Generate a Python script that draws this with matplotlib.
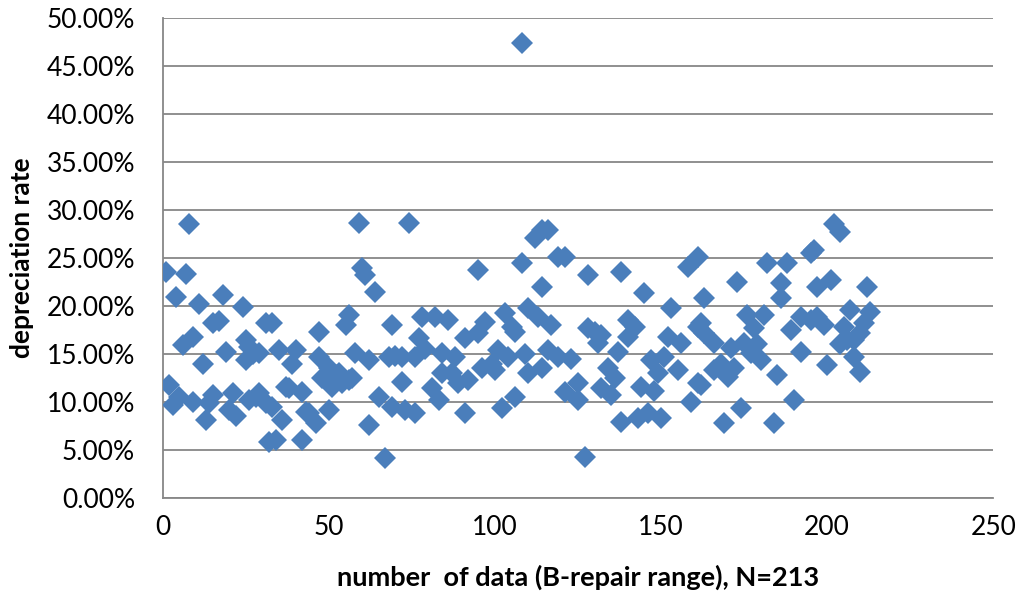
import matplotlib
matplotlib.use("Agg")
import matplotlib.pyplot as plt
from matplotlib.ticker import FuncFormatter

# index of data (x) and depreciation rate in % (y)
x_index = [1, 2, 3, 4, 5, 6, 7, 8, 9, 9, 11, 12, 13, 14, 15, 15, 17, 18, 19, 20, 21, 22, 24, 25, 25, 26, 26, 29, 29, 31, 31, 32,
           33, 35, 39, 40, 37, 42, 33, 36, 34, 44, 46, 42, 47, 47, 50, 50, 51, 53, 55, 56, 56, 58, 59, 60, 61, 62, 62, 64,
           67, 65, 68, 69, 69, 72, 72, 74, 73, 76, 76, 77, 78, 81, 82, 83, 84, 84, 86, 88, 89, 91, 91, 92, 95, 95, 96,
           97, 100, 101, 102, 103, 104, 105, 106, 106, 108, 108, 110, 110, 112, 113, 114, 114, 114, 116, 116, 117, 119, 119,
           121, 121, 125, 125, 127, 128, 128, 130,
           131, 132, 132, 134, 135, 137, 138, 138, 140, 140, 142, 143, 144, 145, 146, 147, 148, 150, 151, 152, 153, 155, 156,
           158, 159, 161, 161, 161, 163, 163,
           162, 162, 166, 166, 169, 170, 171, 172, 173, 174, 175, 176, 177, 178, 180, 181, 182, 184, 185, 186, 186, 188, 190,
           192, 192, 195, 195, 197,
           196, 197, 200, 201, 202, 204, 204, 205, 207, 208, 208, 210, 210, 211, 212, 213,
           27, 28, 38, 43, 48, 52, 54, 57, 70, 79, 87, 99, 109, 123, 136, 149, 168, 179, 189, 199, 206]
rate_pct = [23.5, 11.8, 9.7, 20.9, 10.5, 15.9, 23.3, 28.6, 16.8, 10.0, 20.2, 14.0, 8.1, 9.9, 18.2, 10.7, 18.4, 21.2, 15.2, 9.2, 10.9, 8.6, 19.9, 16.5, 14.4, 15.7, 10.2, 15.1, 10.9, 18.2, 9.9, 5.8,
            18.2, 15.4, 14.0, 15.4, 11.6, 11.0, 9.5, 8.1, 6.0, 8.9, 7.8, 6.0, 17.3, 14.7, 13.6, 9.2, 11.6, 13.0, 18.0, 19.1, 12.3, 15.1, 28.7, 24.0, 23.2, 14.4, 7.6, 21.5,
            4.2, 10.5, 14.7, 18.0, 9.5, 14.7, 12.1, 28.7, 9.2, 14.7, 8.9, 16.7, 18.9, 11.5, 18.9, 10.2, 15.1, 13.0, 18.5, 14.7, 12.0, 16.7, 8.9, 12.3, 23.8, 17.2, 13.6,
            18.3, 13.3, 15.4, 9.4, 19.3, 14.7, 17.8, 17.3, 10.5, 24.5, 47.4, 13.0, 19.8, 27.1, 18.9, 27.9, 22.0, 13.6, 27.9, 15.4, 18.0, 25.1, 14.7,
            25.1, 11.0, 12.0, 10.2, 4.3, 23.2, 17.7, 17.3,
            16.2, 17.0, 11.5, 13.6, 10.7, 15.2, 23.5, 7.9, 18.5, 16.8, 17.8, 8.3, 11.6, 21.4, 8.9, 14.4, 11.2, 8.3, 14.7, 16.8, 19.8, 13.3, 16.2,
            24.1, 10.0, 25.1, 17.8, 12.0, 20.8, 17.2,
            18.2, 11.8, 16.2, 13.3, 7.8, 12.6, 15.6, 13.6, 22.5, 9.4, 16.2, 19.1, 15.1, 17.7, 14.4, 19.1, 24.5, 7.8, 12.8, 22.4, 20.8, 24.5, 10.2,
            18.9, 15.2, 18.5, 25.5, 22.0,
            25.8, 18.9, 13.9, 22.7, 28.6, 16.1, 27.7, 17.8, 19.6, 16.5, 14.7, 17.2, 13.1, 18.2, 22.0, 19.4,
            15.0, 10.5, 11.5, 9.0, 12.5, 12.8, 12.0, 12.5, 14.8, 15.5, 13.0, 14.0, 15.0, 14.5, 12.5, 13.0, 14.0, 16.0, 17.5, 18.0, 16.5]

y_ticks = [0, 5, 10, 15, 20, 25, 30, 35, 40, 45, 50]
x_ticks = [0, 50, 100, 150, 200, 250]

plt.rcParams['font.family'] = ['Lato', 'DejaVu Sans']

fig = plt.figure(figsize=(10.24, 6.03), dpi=100)
ax = fig.add_axes([0.159, 0.174, 0.811, 0.796])

ax.plot(x_index, rate_pct, linestyle='none', marker='D', markersize=11,
        color='#4a7ebb', markeredgewidth=0, zorder=3)

ax.set_xlim(0, 250)
ax.set_ylim(0, 50)
ax.set_xticks(x_ticks)
ax.set_yticks(y_ticks)
ax.yaxis.set_major_formatter(FuncFormatter(lambda v, p: f"{v:.2f}%"))

ax.grid(axis='y', color='#878787', linewidth=1.3, zorder=0)
for s in ['top', 'right']:
    ax.spines[s].set_visible(False)
for s in ['left', 'bottom']:
    ax.spines[s].set_color('#878787')
    ax.spines[s].set_linewidth(1.3)
ax.tick_params(axis='both', length=0, labelsize=19, colors='black')
ax.tick_params(axis='y', pad=20)
ax.tick_params(axis='x', pad=12)

ax.set_xlabel('number  of data (B-repair range), N=213', fontsize=19.5, fontweight='bold', labelpad=18)
ax.set_ylabel('depreciation rate', fontsize=19, fontweight='bold', labelpad=9)

fig.savefig('out.png', dpi=100)
